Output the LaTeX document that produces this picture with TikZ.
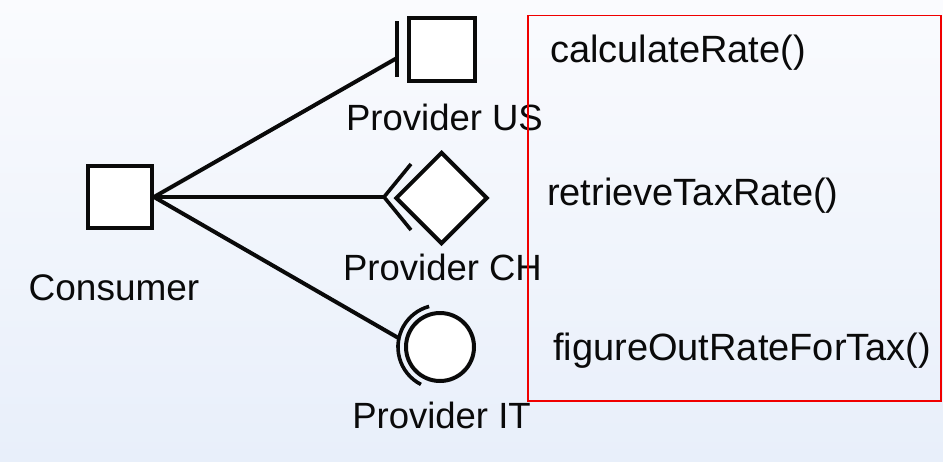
\documentclass[tikz,border=0pt]{standalone}
\usepackage{fontspec}
\setmainfont{Liberation Sans}
\usetikzlibrary{shapes.geometric,calc}
\definecolor{bgtop}{RGB}{250,251,254}
\definecolor{bgbottom}{RGB}{232,239,250}
\definecolor{ink}{RGB}{10,10,10}
\definecolor{frame}{RGB}{240,0,0}
\begin{document}
\begin{tikzpicture}[x=1pt,y=1pt,
  symbol/.style={draw=ink, line width=4pt, fill=white, inner sep=0pt},
  wire/.style={draw=ink, line width=4pt},
  port/.style={draw=ink, line width=3.6pt},
  lbl/.style={text=ink, inner sep=0pt, font=\fontsize{36.5}{40}\selectfont},
  method/.style={text=ink, inner sep=0pt, anchor=base west, font=\fontsize{38}{42}\selectfont}]

% backdrop and page size
\shade[top color=bgtop, bottom color=bgbottom] (0,0) rectangle (943,-461);
\useasboundingbox (0,0) rectangle (943,-461);

% components
\node[symbol, rectangle, minimum width=64pt, minimum height=62pt] (consumer) at (120,-197) {};
\node[symbol, rectangle, minimum width=66pt, minimum height=63pt] (us) at (442,-49.5) {};
\node[symbol, diamond, minimum width=92pt, minimum height=92pt] (ch) at (441.5,-198) {};
\node[symbol, circle, minimum size=68pt] (it) at (440,-347) {};

% required-interface ends in front of each provider
\coordinate (usTop) at (397,-21);
\coordinate (usBottom) at (397,-77);
\coordinate (usPort) at (397,-58);
\draw[port] (usTop) -- (usBottom);

\coordinate (chUpper) at (411,-164);
\coordinate (chPort) at (384,-197);
\coordinate (chLower) at (411,-230);
\draw[port, line join=miter] (chUpper) -- (chPort) -- (chLower);

\coordinate (itPort) at ($(it.center)+(168:42)$);
\draw[port] ([shift={(105:42)}]it.center) arc[start angle=105, end angle=243, radius=42];

% connections
\draw[wire] (consumer.east) -- (usPort);
\draw[wire] (consumer.east) -- (chPort);
\draw[wire] (consumer.east) -- (itPort);

% labels
\node[lbl, anchor=base, font=\fontsize{37}{40}\selectfont] (consumerLbl) at (114,-300) {Consumer};
\node[lbl, anchor=base] (usLbl) at (444.5,-130) {Provider US};
\node[lbl, anchor=base] (chLbl) at (442.5,-280) {Provider CH};
\node[lbl, anchor=base] (itLbl) at (441.5,-428) {Provider IT};

% operation names
\node[method] (opUS) at (550,-62) {calculateRate()};
\node[method] (opCH) at (547,-205) {retrieveTaxRate()};
\node[method] (opIT) at (553,-360) {figureOutRateForTax()};

% highlight frame
\draw[frame, line width=1.6pt] (528,-15.5) rectangle (941,-401);
\end{tikzpicture}
\end{document}
